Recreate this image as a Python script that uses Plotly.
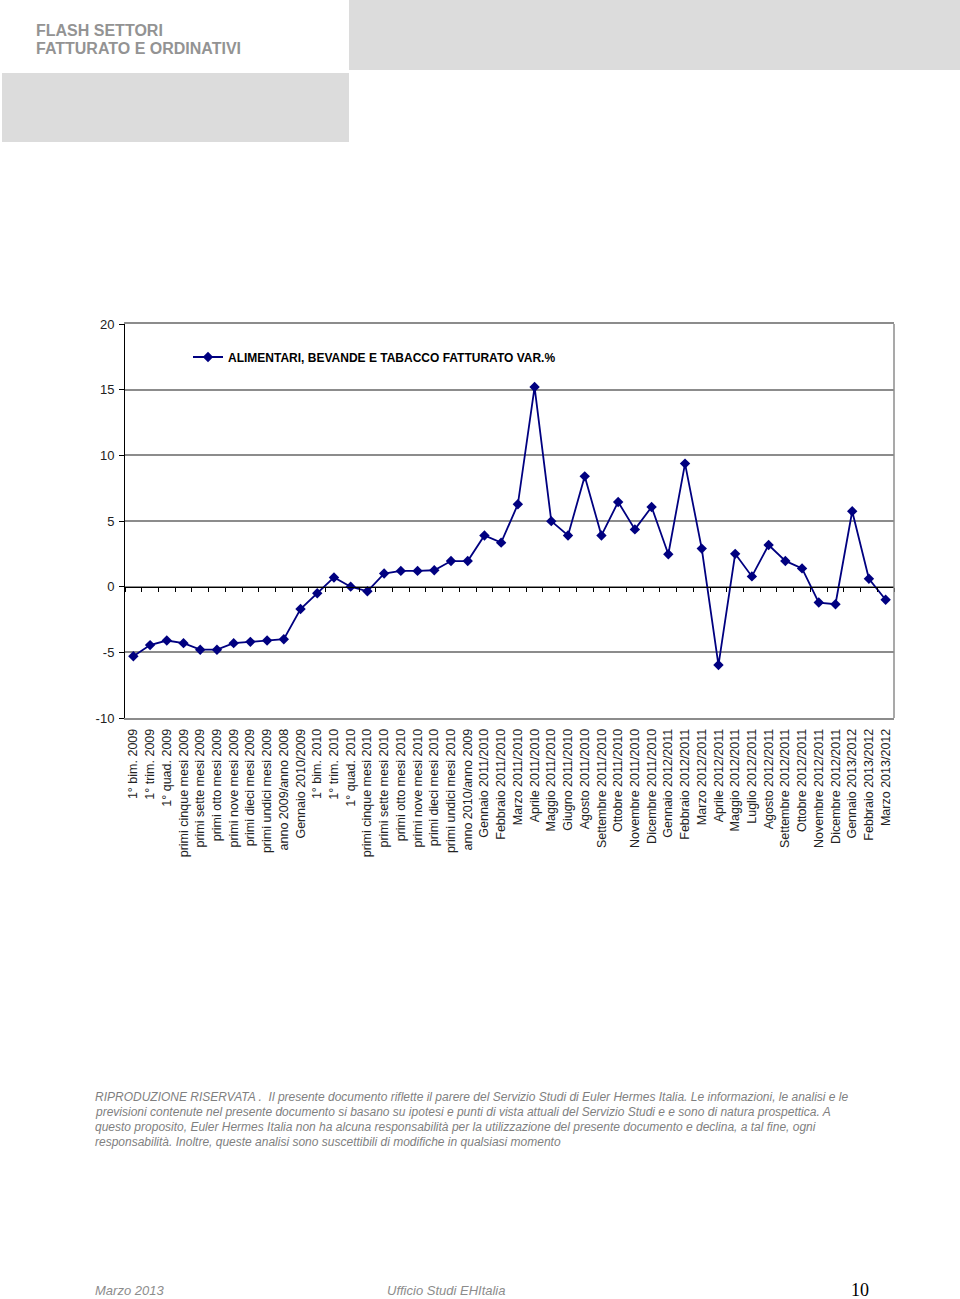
import plotly.graph_objects as go

categories = [
    "1° bim. 2009", "1° trim. 2009", "1° quad. 2009", "primi cinque mesi 2009",
    "primi sette mesi 2009", "primi otto mesi 2009", "primi nove mesi 2009",
    "primi dieci mesi 2009", "primi undici mesi 2009", "anno 2009/anno 2008",
    "Gennaio 2010/2009", "1° bim. 2010", "1° trim. 2010", "1° quad. 2010",
    "primi cinque mesi 2010", "primi sette mesi 2010", "primi otto mesi 2010",
    "primi nove mesi 2010", "primi dieci mesi 2010", "primi undici mesi 2010",
    "anno 2010/anno 2009", "Gennaio 2011/2010", "Febbraio 2011/2010",
    "Marzo 2011/2010", "Aprile 2011/2010", "Maggio 2011/2010", "Giugno 2011/2010",
    "Agosto 2011/2010", "Settembre 2011/2010", "Ottobre 2011/2010",
    "Novembre 2011/2010", "Dicembre 2011/2010", "Gennaio 2012/2011",
    "Febbraio 2012/2011", "Marzo 2012/2011", "Aprile 2012/2011", "Maggio 2012/2011",
    "Luglio 2012/2011", "Agosto 2012/2011", "Settembre 2012/2011",
    "Ottobre 2012/2011", "Novembre 2012/2011", "Dicembre 2012/2011",
    "Gennaio 2013/2012", "Febbraio 2013/2012", "Marzo 2013/2012",
]

values = [
    -5.3, -4.45, -4.1, -4.3, -4.8, -4.8, -4.3, -4.2, -4.1, -4.0,
    -1.7, -0.5, 0.7, 0.0, -0.35, 1.0, 1.2, 1.2, 1.25, 1.95,
    1.95, 3.9, 3.35, 6.27, 15.2, 4.99, 3.9, 8.4, 3.9, 6.45,
    4.36, 6.07, 2.47, 9.37, 2.9, -5.97, 2.5, 0.78, 3.17, 1.96,
    1.39, -1.21, -1.34, 5.74, 0.6, -1.0,
]

series_name = "ALIMENTARI, BEVANDE E TABACCO FATTURATO VAR.%"
y_ticks = [-10, -5, 0, 5, 10, 15, 20]
y_ticktext = ["-10", "-5", "0", "5", "10", "15", "20"]

disclaimer_lines = [
    "RIPRODUZIONE RISERVATA .  Il presente documento riflette il parere del Servizio Studi di Euler Hermes Italia. Le informazioni, le analisi e le",
    "previsioni contenute nel presente documento si basano su ipotesi e punti di vista attuali del Servizio Studi e e sono di natura prospettica. A",
    "questo proposito, Euler Hermes Italia non ha alcuna responsabilità per la utilizzazione del presente documento e declina, a tal fine, ogni",
    "responsabilità. Inoltre, queste analisi sono suscettibili di modifiche in qualsiasi momento",
]

W, H = 960, 1299


def px(x):
    return x / W


def py(y):
    return 1 - y / H


x_dom = [px(125), px(894)]
y_dom = [py(718), py(324)]
y_min, y_max = -10, 20
zero_pos = y_dom[0] + (0 - y_min) / (y_max - y_min) * (y_dom[1] - y_dom[0])

NAVY = "#000080"
GRID = "#8c8c8c"

fig = go.Figure()

# invisible trace to give the zero-crossing axis its categories
fig.add_trace(go.Scatter(
    x=categories, y=values, xaxis="x2", yaxis="y",
    mode="lines", line=dict(width=0, color="rgba(0,0,0,0)"),
    showlegend=False, hoverinfo="skip",
))

fig.add_trace(go.Scatter(
    x=categories, y=values, name=series_name,
    mode="lines+markers",
    line=dict(color=NAVY, width=1.8),
    marker=dict(symbol="diamond", size=8, color=NAVY),
))

fig.update_layout(
    width=W, height=H,
    margin=dict(l=0, r=0, t=0, b=0, pad=0, autoexpand=False),
    paper_bgcolor="white", plot_bgcolor="white",
    font=dict(family="Arial, Liberation Sans, sans-serif", color="#222222"),
    showlegend=True,
    legend=dict(
        x=px(188), y=py(357), xanchor="left", yanchor="middle",
        bgcolor="rgba(0,0,0,0)",
        font=dict(family="Arial, Liberation Sans, sans-serif", size=12, color="#000000", weight="bold"),
        itemwidth=30,
    ),
    xaxis=dict(
        domain=x_dom, anchor="y", type="category", automargin=False,
        categoryorder="array", categoryarray=categories,
        range=[-0.5, len(categories) - 0.5],
        showgrid=False, zeroline=False,
        showline=True, linecolor=GRID, linewidth=1.5, mirror=True,
        ticks="", tickangle=-90, ticklabelstandoff=4,
        tickfont=dict(size=12.5, color="#222222"),
    ),
    xaxis2=dict(
        overlaying="x", anchor="free", position=zero_pos, type="category",
        automargin=False,
        categoryorder="array", categoryarray=categories,
        range=[-0.5, len(categories) - 0.5],
        showgrid=False, zeroline=False,
        showline=True, linecolor="#000000", linewidth=1,
        ticks="outside", ticklen=4, tickcolor="#000000", tickson="boundaries",
        showticklabels=False,
    ),
    yaxis=dict(
        domain=y_dom, anchor="x", range=[y_min, y_max], automargin=False,
        tickmode="array", tickvals=y_ticks, ticktext=y_ticktext,
        showgrid=True, gridcolor=GRID, gridwidth=1.5,
        zeroline=False,
        showline=True, linecolor="#000000", linewidth=1,
        ticks="outside", ticklen=5, tickcolor="#000000", ticklabelstandoff=2,
        tickfont=dict(size=13, color="#222222"),
    ),
)

# right border of plot area
fig.add_shape(type="line", xref="x domain", yref="y domain",
              x0=1, x1=1, y0=0, y1=1, line=dict(color=GRID, width=1.5))

# header grey boxes
fig.add_shape(type="rect", xref="paper", yref="paper",
              x0=px(349), x1=px(960), y0=py(70), y1=py(0),
              fillcolor="#dcdcdc", line=dict(width=0), layer="below")
fig.add_shape(type="rect", xref="paper", yref="paper",
              x0=px(2), x1=px(349), y0=py(142), y1=py(73),
              fillcolor="#dcdcdc", line=dict(width=0), layer="below")

# header text
for txt, yy in [("FLASH SETTORI", 30), ("FATTURATO E ORDINATIVI", 49)]:
    fig.add_annotation(text=txt, xref="paper", yref="paper",
                       x=px(34), y=py(yy), xanchor="left", yanchor="middle",
                       showarrow=False,
                       font=dict(family="Arial, Liberation Sans, sans-serif", size=16,
                                 color="#939393", weight="bold"))

# disclaimer
for i, line in enumerate(disclaimer_lines):
    fig.add_annotation(text="<i>" + line + "</i>", xref="paper", yref="paper",
                       x=px(93), y=py(1097 + i * 15), xanchor="left", yanchor="middle",
                       showarrow=False,
                       font=dict(family="Liberation Sans, Arial, sans-serif", size=12,
                                 color="#7f7f7f"))

# footer
fig.add_annotation(text="<i>Marzo 2013</i>", xref="paper", yref="paper",
                   x=px(93), y=py(1290), xanchor="left", yanchor="middle", showarrow=False,
                   font=dict(family="Liberation Sans, Arial, sans-serif", size=13, color="#8c8c8c"))
fig.add_annotation(text="<i>Ufficio Studi EHItalia</i>", xref="paper", yref="paper",
                   x=px(385), y=py(1290), xanchor="left", yanchor="middle", showarrow=False,
                   font=dict(family="Liberation Sans, Arial, sans-serif", size=13, color="#8c8c8c"))
fig.add_annotation(text="10", xref="paper", yref="paper",
                   x=px(849), y=py(1290), xanchor="left", yanchor="middle", showarrow=False,
                   font=dict(family="Liberation Serif, DejaVu Serif, serif", size=18, color="#000000"))

fig.write_html(
    "out.html",
    config={"displayModeBar": False},
    post_script="document.body.style.margin='0';document.body.style.overflow='hidden';"
                "document.documentElement.style.overflow='hidden';",
)
